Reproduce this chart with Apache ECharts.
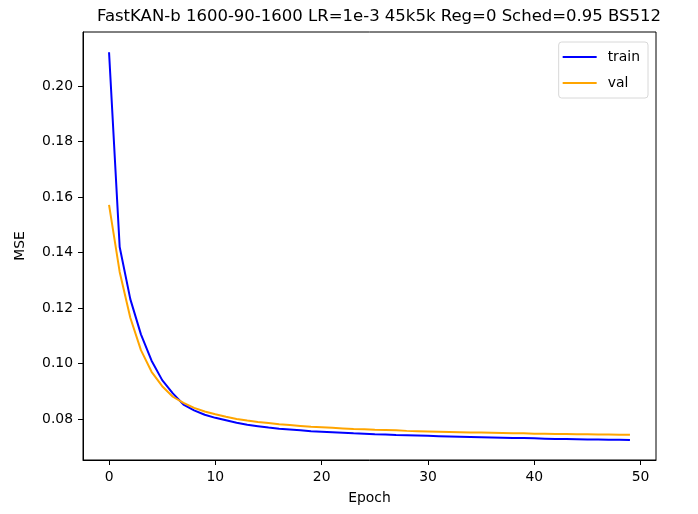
<!DOCTYPE html>
<html>
<head>
<meta charset="utf-8">
<script src="https://cdn.jsdelivr.net/npm/echarts@6/dist/echarts.min.js"></script>
<style>
html, body { margin: 0; padding: 0; background: #fff; }
#chart { width: 698px; height: 514px; }
</style>
</head>
<body>
<div id="chart"></div>
<script>
// values
var epochs = [];
for (var i = 0; i < 50; i++) epochs.push(i);

var trainLoss = [
	0.2122, 0.1420, 0.1232, 0.1105, 0.1010, 0.0940, 0.0892, 0.0852, 0.0831, 0.0815,
	0.0804, 0.0795, 0.0786, 0.0779, 0.0774, 0.0769, 0.0765, 0.0762, 0.0759, 0.0756,
	0.0754, 0.0752, 0.0750, 0.0748, 0.0747, 0.0745, 0.0744, 0.0742, 0.0741, 0.0740,
	0.0739, 0.0738, 0.0737, 0.0736, 0.0735, 0.0734, 0.0733, 0.0732, 0.0731, 0.0731,
	0.0730, 0.0729, 0.0728, 0.0728, 0.0727, 0.0726, 0.0726, 0.0725, 0.0725, 0.0724
];
var valLoss = [
	0.1572, 0.1330, 0.1165, 0.1048, 0.0970, 0.0918, 0.0880, 0.0858, 0.0840, 0.0827,
	0.0817, 0.0808, 0.0800, 0.0794, 0.0789, 0.0785, 0.0781, 0.0778, 0.0775, 0.0772,
	0.0770, 0.0768, 0.0766, 0.0764, 0.0763, 0.0761, 0.0760, 0.0759, 0.0757, 0.0756,
	0.0755, 0.0754, 0.0753, 0.0752, 0.0751, 0.0751, 0.0750, 0.0749, 0.0748, 0.0748,
	0.0747, 0.0747, 0.0746, 0.0746, 0.0745, 0.0745, 0.0744, 0.0744, 0.0743, 0.0743
];
var xTicks = [0, 10, 20, 30, 40, 50];
var yTicks = [0.08, 0.10, 0.12, 0.14, 0.16, 0.18, 0.20];

function pairs(ys) {
	var out = [];
	for (var i = 0; i < ys.length; i++) out.push([epochs[i], ys[i]]);
	return out;
}

var font = 'DejaVu Sans';
var chart = echarts.init(document.getElementById('chart'));
var option = {
	animation: false,
	backgroundColor: '#fff',
	title: {
		text: 'FastKAN-b 1600-90-1600 LR=1e-3 45k5k Reg=0 Sched=0.95 BS512',
		left: 374,
		top: 3,
		textAlign: 'center',
		textStyle: { fontFamily: font, fontSize: 16.5, fontWeight: 'normal', color: '#000' }
	},
	legend: {
		right: 50,
		top: 42,
		orient: 'vertical',
		icon: 'rect',
		itemWidth: 34,
		itemHeight: 2,
		itemGap: 12,
		padding: [8, 8, 8, 4],
		borderColor: '#d8d8d8',
		borderWidth: 1,
		borderRadius: 3,
		textStyle: { fontFamily: font, fontSize: 13.9, color: '#000', padding: [0, 0, 0, 6] },
		data: ['train', 'val']
	},
	grid: {
		left: 83,
		right: 42,
		top: 32,
		bottom: 54,
		show: true,
		borderColor: '#000',
		borderWidth: 1
	},
	xAxis: {
		type: 'value',
		min: -2.45,
		max: 51.45,
		name: 'Epoch',
		nameLocation: 'middle',
		nameGap: 31,
		nameTextStyle: { fontFamily: font, fontSize: 13.9, color: '#000' },
		axisLine: { onZero: false, lineStyle: { color: '#000' } },
		axisTick: { inside: false, length: 5, customValues: xTicks, lineStyle: { color: '#000' } },
		axisLabel: { customValues: xTicks, margin: 10, fontFamily: font, fontSize: 13.9, color: '#000' },
		splitLine: { show: false }
	},
	yAxis: {
		type: 'value',
		min: 0.0652,
		max: 0.2195,
		name: 'MSE',
		nameLocation: 'middle',
		nameRotate: 90,
		nameGap: 56,
		nameTextStyle: { fontFamily: font, fontSize: 13.9, color: '#000' },
		axisLine: { show: true, onZero: false, lineStyle: { color: '#000' } },
		axisTick: { show: true, inside: false, length: 5, customValues: yTicks, lineStyle: { color: '#000' } },
		axisLabel: {
			customValues: yTicks,
			margin: 10,
			fontFamily: font,
			fontSize: 13.9,
			color: '#000',
			formatter: function (v) { return v.toFixed(2); }
		},
		splitLine: { show: false }
	},
	series: [{
		name: 'train',
		type: 'line',
		data: pairs(trainLoss),
		showSymbol: false,
		symbol: 'none',
		itemStyle: { color: '#0000ff' },
		lineStyle: { color: '#0000ff', width: 2 }
	}, {
		name: 'val',
		type: 'line',
		data: pairs(valLoss),
		showSymbol: false,
		symbol: 'none',
		itemStyle: { color: '#ffa500' },
		lineStyle: { color: '#ffa500', width: 2 }
	}]
};
chart.setOption(option);
</script>
</body>
</html>
